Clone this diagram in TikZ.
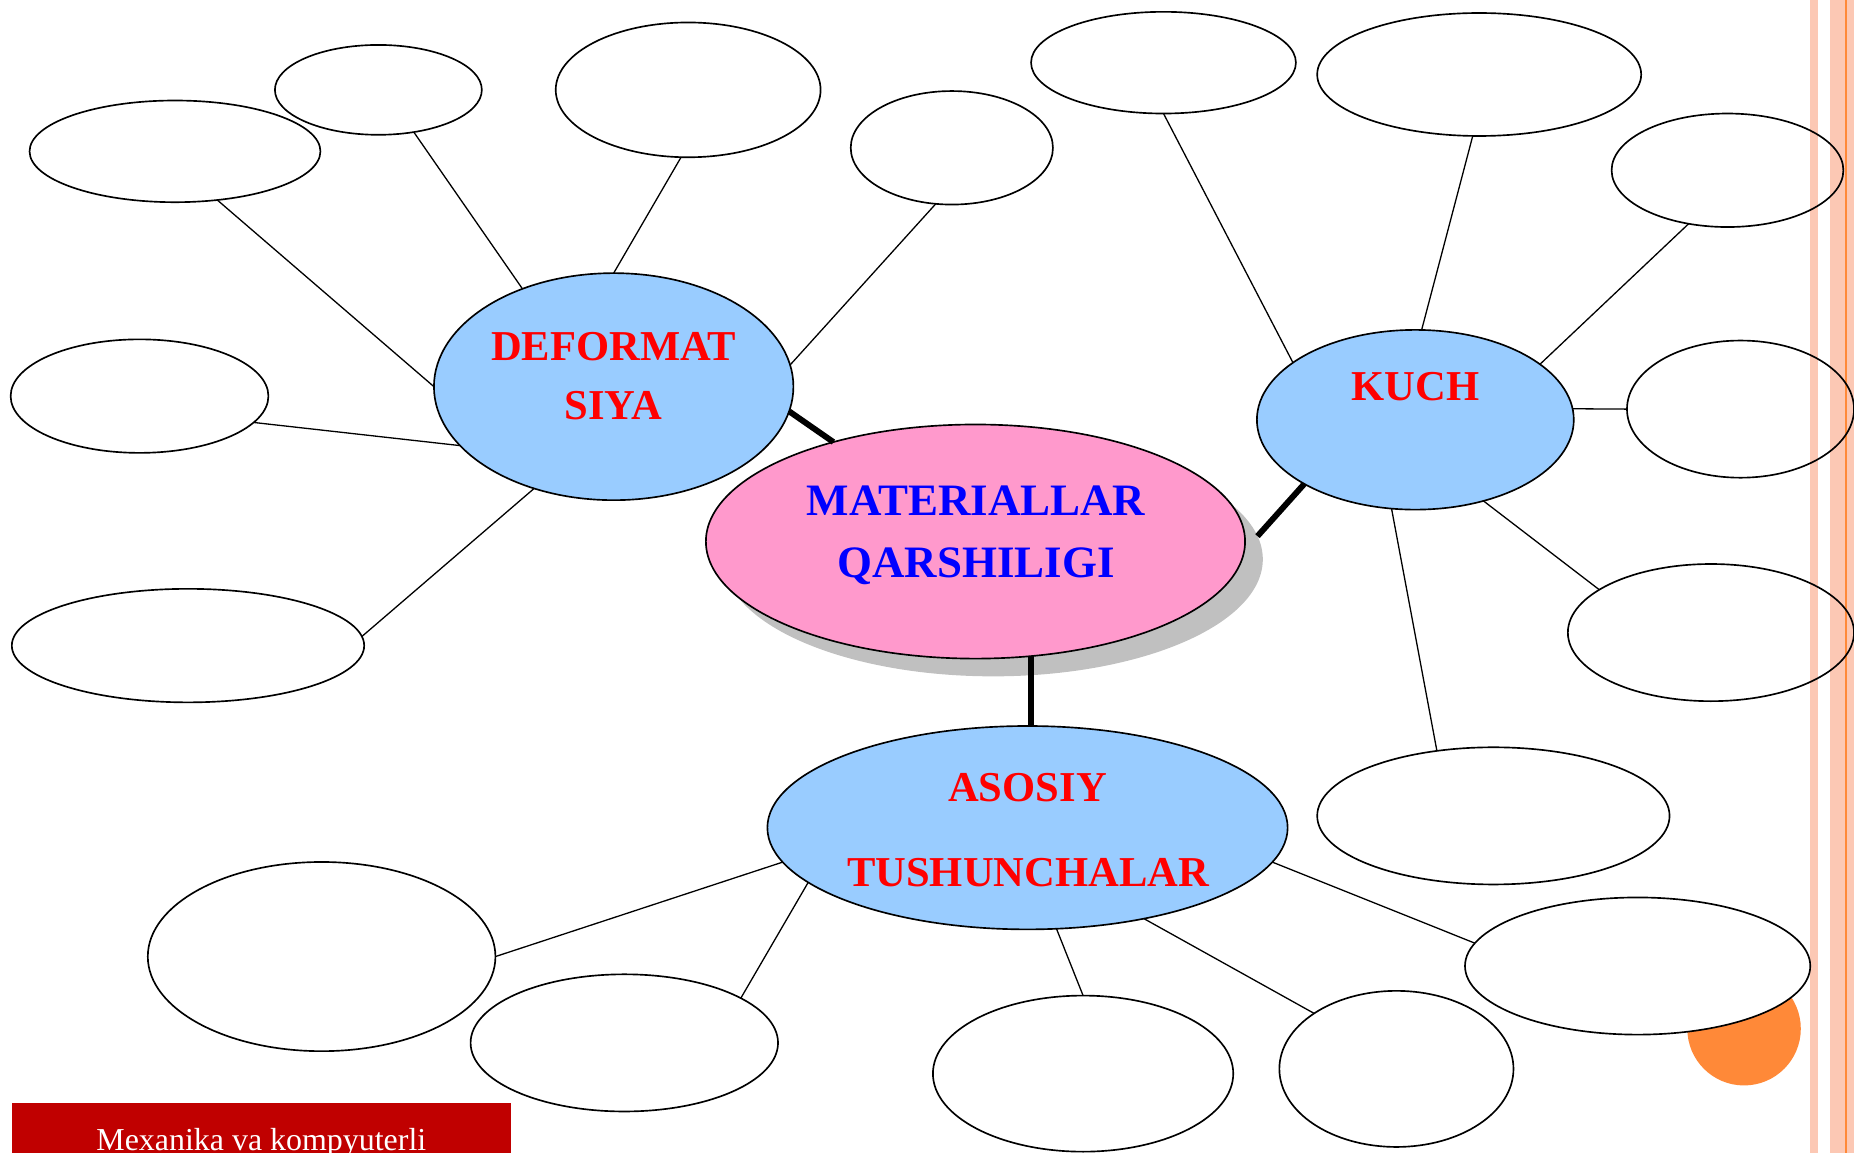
\documentclass[tikz,border=0pt]{standalone}
\usepackage{fontspec}
\setmainfont{Liberation Serif}
\usetikzlibrary{shapes.geometric}
\definecolor{lblue}{RGB}{153,204,255}
\definecolor{lpink}{RGB}{255,153,204}
\definecolor{shadowgray}{RGB}{192,192,192}
\definecolor{boxred}{RGB}{192,0,0}
\definecolor{salmonlt}{RGB}{252,200,180}
\definecolor{orng}{RGB}{255,137,56}
\begin{document}
\begin{tikzpicture}[x=1pt,y=-1pt,
  bub/.style={ellipse, draw=black, line width=1.4pt, inner sep=0pt, outer sep=0pt, fill=white},
  hub/.style={bub, fill=lblue},
  thinln/.style={line width=1.1pt, black},
  link/.style={line width=5pt, black},
  redlbl/.style={text=red, font=\fontsize{36}{40}\selectfont\bfseries, anchor=base, inner sep=0pt},
  bluelbl/.style={text=blue, font=\fontsize{38}{42}\selectfont\bfseries, anchor=base, inner sep=0pt}
]
\useasboundingbox (0,0) rectangle (1568,975);
\clip (0,0) rectangle (1568,975);
% decorations at the right edge
\fill[salmonlt] (1530.8,0) rectangle (1537.6,975);
\fill[salmonlt] (1547.7,0) rectangle (1568,975);
\fill[orng] (1560.4,0) rectangle (1562,975);
\fill[orng] (1475,870) circle [radius=48];
% footer box
\node[fill=boxred, anchor=north west, minimum width=422, minimum height=50, inner sep=0pt] (foot) at (10,933) {};
\node[text=white, font=\fontsize{27}{30}\selectfont, anchor=base, inner sep=0pt] (foottxt) at (221,973) {Mexanika va kompyuterli};

% left cluster
\node[bub, minimum width=246, minimum height=86] (e1) at (148,128) {};
\node[bub, minimum width=175, minimum height=76] (e2) at (320,76) {};
\node[bub, minimum width=224, minimum height=114] (e3) at (582,76) {};
\node[bub, minimum width=171, minimum height=96] (e4) at (805,125) {};
\node[bub, minimum width=218, minimum height=96] (e5) at (118,335) {};
\node[bub, minimum width=298, minimum height=96] (e6) at (159,546) {};
\node[hub, minimum width=304, minimum height=192] (def) at (519,327) {};

% centre
\node[ellipse, fill=shadowgray, inner sep=0pt, outer sep=0pt, minimum width=456, minimum height=198] (mqs) at (840,473) {};
\node[bub, fill=lpink, minimum width=456, minimum height=198] (mq) at (825,458) {};

% right cluster
\node[hub, minimum width=268, minimum height=152] (kuch) at (1197,355) {};
\node[bub, minimum width=224, minimum height=86] (r1) at (984,53) {};
\node[bub, minimum width=274, minimum height=104] (r2) at (1251,63) {};
\node[bub, fill=none, minimum width=196, minimum height=96] (r3) at (1461,144) {};
\node[bub, fill=none, minimum width=192, minimum height=116] (r4) at (1472,346) {};
\node[bub, fill=none, minimum width=242, minimum height=116] (r5) at (1447,535) {};
\node[bub, minimum width=298, minimum height=116] (r6) at (1263,690) {};

% bottom cluster
\node[hub, minimum width=440, minimum height=172] (aso) at (869,700) {};
\node[bub, minimum width=294, minimum height=160] (b1) at (272,809) {};
\node[bub, minimum width=260, minimum height=116] (b2) at (528,882) {};
\node[bub, minimum width=254, minimum height=132] (b3) at (916,908) {};
\node[bub, minimum width=198, minimum height=132] (b4) at (1181,904) {};
\node[bub, minimum width=292, minimum height=116] (b5) at (1385,817) {};

% connectors of DEFORMATSIYA
\draw[thinln] (e1.-49.5) -- (def.180);
\draw[thinln] (e2.-50.6) -- (def.133);
\draw[thinln] (e3.-96) -- (def.90);
\draw[thinln] (e4.-106) -- (def.7.6);
\draw[thinln] (e5.-13.6) -- (def.201);
\draw[thinln] (e6.3.8) -- (def.232);
% thick links
\draw[link] (def.-8.4) -- (mq.145);
\draw[link] (mqs.5.6) -- (kuch.210);
\draw[link] (mq.-64.6) -- (mq.-64.6 |- aso.north);
% connectors of KUCH
\draw[thinln] (r1.-90) -- (kuch.155.8);
\draw[thinln] (r2.-96.5) -- (kuch.86.7);
\draw[thinln] (r3.-126) -- (kuch.24.8);
\draw[thinln] (r4.180) -- (kuch.4);
\draw[thinln] (r5.159) -- (kuch.-50);
\draw[thinln] (r6.131) -- (kuch.-105);
% connectors of ASOSIY TUSHUNCHALAR
\draw[thinln] (b1.0) -- (aso.188);
\draw[thinln] (b2.21.5) -- (aso.194);
\draw[thinln] (b3.90) -- (aso.-74.7);
\draw[thinln] (b4.146.5) -- (aso.-38);
\draw[thinln] (b5.172) -- (aso.-8.2);

% labels
\node[redlbl] (deft1) at (519,304.5) {DEFORMAT};
\node[redlbl] (deft2) at (519,355) {SIYA};
\node[bluelbl] (mqt1) at (825.5,435.6) {MATERIALLAR};
\node[bluelbl] (mqt2) at (825.5,488) {QARSHILIGI};
\node[redlbl] (kucht) at (1197,339) {KUCH};
\node[redlbl] (asot1) at (869,678) {ASOSIY};
\node[redlbl] (asot2) at (869.5,750) {TUSHUNCHALAR};
\end{tikzpicture}
\end{document}
